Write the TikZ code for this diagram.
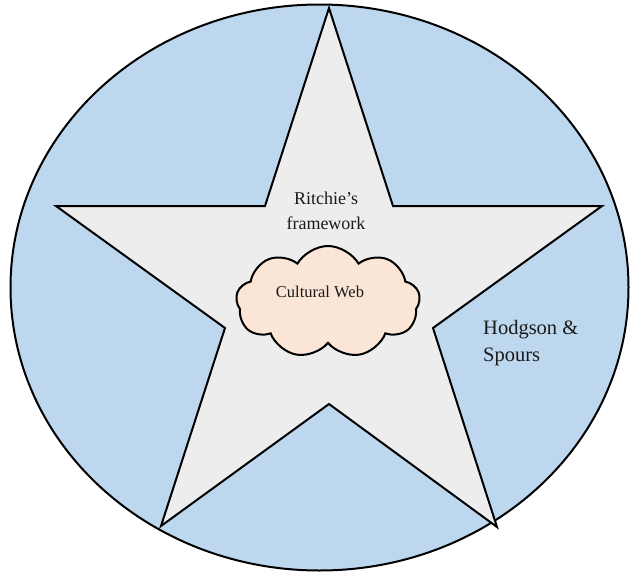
\documentclass[tikz,border=0pt]{standalone}
\usepackage{fontspec}
\setmainfont{Liberation Serif}
\usepackage{xcolor}
\definecolor{cOuter}{HTML}{BDD7EE}
\definecolor{cStar}{HTML}{EDEDED}
\definecolor{cCloud}{HTML}{FBE5D6}
\definecolor{cText}{HTML}{1A1A1A}
\usetikzlibrary{positioning,shapes.symbols}
\tikzset{
  ring-fill/.style={draw=black,line width=2pt,fill=cOuter},
  star-fill/.style={draw=black,line width=2pt,fill=cStar,line join=miter},
  node-cloud/.style={draw=black,line width=2pt,fill=cCloud,cloud,
    cloud puffs=9,cloud puff arc=120,aspect=1.6,
    minimum width=184pt,minimum height=112pt,inner sep=0pt},
  node-label/.style={text=cText,align=left,inner sep=0pt},
}
\begin{document}
\begin{tikzpicture}[x=1pt,y=-1pt]
  \useasboundingbox (0,0) rectangle (630,573);
  % outer ellipse
  \draw[ring-fill] (319.5,287.5) ellipse [x radius=309,y radius=283];
  % star points
  \coordinate (pt-top) at (329,8);
  \coordinate (in-tr)  at (393,206);
  \coordinate (pt-r)   at (602,206);
  \coordinate (in-r)   at (433,328);
  \coordinate (pt-br)  at (497,527);
  \coordinate (in-b)   at (329,404);
  \coordinate (pt-bl)  at (161,526);
  \coordinate (in-l)   at (225,328);
  \coordinate (pt-l)   at (56,206);
  \coordinate (in-tl)  at (265,206);
  \draw[star-fill] (pt-top) -- (in-tr) -- (pt-r) -- (in-r) -- (pt-br)
    -- (in-b) -- (pt-bl) -- (in-l) -- (pt-l) -- (in-tl) -- cycle;
  \node[node-cloud] (cweb) at (328,302) {};
  \node[node-label,font=\fontsize{16.5}{18}\selectfont] at (320,292) {Cultural Web};
  \node[node-label,align=center,font=\fontsize{18}{25}\selectfont]
    (ritchie) at (326,211) {Ritchie’s\\framework};
  \node[node-label,anchor=north west,font=\fontsize{20.5}{27}\selectfont]
    (hodgson) at (483,320) {Hodgson \&\\Spours};
\end{tikzpicture}
\end{document}
